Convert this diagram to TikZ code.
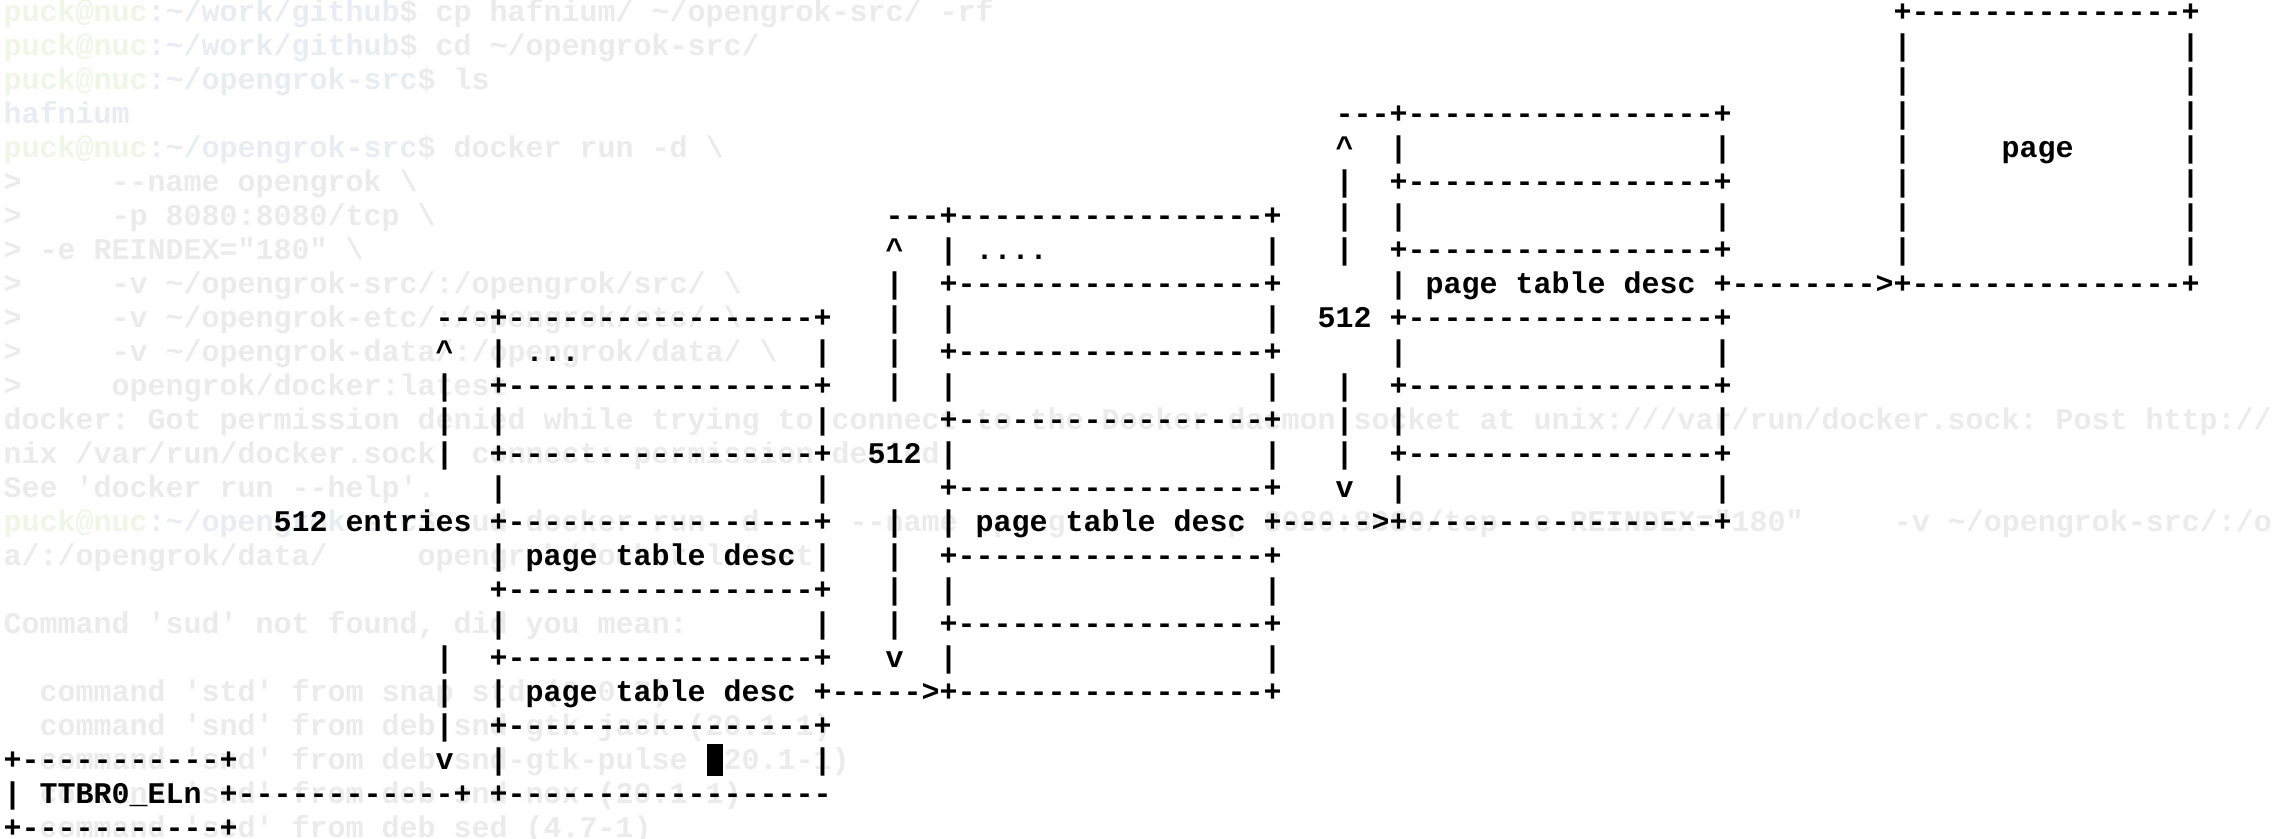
\documentclass[tikz,border=0pt]{standalone}
\usepackage{fontspec}
\setmonofont{Liberation Mono}
\definecolor{bggray}{HTML}{EBEBEB}
\definecolor{bggreen}{HTML}{EEF7E6}
\definecolor{bgblue}{HTML}{E8EDF3}
\tikzset{
  ascii/.style={anchor=base west, inner sep=0pt, outer sep=0pt, text=black,
    font=\ttfamily\bfseries\fontsize{30}{34}\selectfont},
  bgtext/.style={ascii, text=bggray},
  cursorbox/.style={fill=black, inner sep=0pt, minimum width=16pt, minimum height=32pt}
}
% one piece of the drawing at (row, column)
\newcommand\asc[3]{\node[ascii] (r#1c#2) at ({3.5+18*#2},{-21.7-34*#1}) {#3};}
% one faded terminal line
\newcommand\bgl[2]{\node[bgtext] (bg#1) at (3.5,{-21.7-34*#1}) {#2};}
\newcommand\termprompt[1]{\textcolor{bggreen}{puck@nuc}:\textcolor{bgblue}{#1}\$}

\begin{document}
\frenchspacing
\begin{tikzpicture}[x=1pt, y=1pt]
  \useasboundingbox (0,0) rectangle (2274,-838);
  \fill[white] (0,0) rectangle (2274,-838);

  % terminal text behind the drawing
  \bgl{0}{\termprompt{\textasciitilde/work/github} cp hafnium/ \textasciitilde/opengrok-src/ -rf}
  \bgl{1}{\termprompt{\textasciitilde/work/github} cd \textasciitilde/opengrok-src/}
  \bgl{2}{\termprompt{\textasciitilde/opengrok-src} ls}
  \bgl{3}{\textcolor{bgblue}{hafnium}}
  \bgl{4}{\termprompt{\textasciitilde/opengrok-src} docker run -d \textbackslash}
  \bgl{5}{>~~~~~--name opengrok \textbackslash}
  \bgl{6}{>~~~~~-p 8080:8080/tcp \textbackslash}
  \bgl{7}{> -e REINDEX="180" \textbackslash}
  \bgl{8}{>~~~~~-v \textasciitilde/opengrok-src/:/opengrok/src/ \textbackslash}
  \bgl{9}{>~~~~~-v \textasciitilde/opengrok-etc/:/opengrok/etc/ \textbackslash}
  \bgl{10}{>~~~~~-v \textasciitilde/opengrok-data/:/opengrok/data/ \textbackslash}
  \bgl{11}{>~~~~~opengrok/docker:latest}
  \bgl{12}{docker: Got permission denied while trying to connect to the Docker daemon socket at unix:///var/run/docker.sock: Post http://}
  \bgl{13}{nix /var/run/docker.sock: connect: permission denied.}
  \bgl{14}{See 'docker run --help'.}
  \bgl{15}{\termprompt{\textasciitilde/opengrok-src} sud docker run -d~~~~~--name opengrok~~~~~-p 8080:8080/tcp -e REINDEX="180"~~~~~-v \textasciitilde/opengrok-src/:/o}
  \bgl{16}{a/:/opengrok/data/~~~~~opengrok/docker:latest}
  \bgl{18}{Command 'sud' not found, did you mean:}
  \bgl{20}{~~command 'std' from snap std (0.0.7)}
  \bgl{21}{~~command 'snd' from deb snd-gtk-jack (20.1-1)}
  \bgl{22}{~~command 'snd' from deb snd-gtk-pulse (20.1-1)}
  \bgl{23}{~~command 'snd' from deb snd-nox (20.1-1)}
  \bgl{24}{~~command 'sed' from deb sed (4.7-1)}

  % page
  \asc{0}{105}{+---------------+}
  \foreach \i in {1,...,7} {
    \asc{\i}{105}{|}
    \asc{\i}{121}{|}
  }
  \asc{4}{111}{page}

  % last level table
  \asc{3}{74}{---+-----------------+}
  \asc{4}{74}{\textasciicircum}
  \asc{4}{77}{|}
  \asc{4}{95}{|}
  \asc{5}{74}{|}
  \asc{5}{77}{+-----------------+}
  \asc{6}{74}{|}
  \asc{6}{77}{|}
  \asc{6}{95}{|}
  \asc{7}{74}{|}
  \asc{7}{77}{+-----------------+}
  \asc{8}{77}{| page table desc +-------->+---------------+}
  \asc{9}{73}{512 +-----------------+}
  \asc{10}{77}{|}
  \asc{10}{95}{|}
  \asc{11}{74}{|}
  \asc{11}{77}{+-----------------+}
  \asc{12}{74}{|}
  \asc{12}{77}{|}
  \asc{12}{95}{|}
  \asc{13}{74}{|}
  \asc{13}{77}{+-----------------+}
  \asc{14}{74}{v}
  \asc{14}{77}{|}
  \asc{14}{95}{|}

  % middle table
  \asc{6}{49}{---+-----------------+}
  \asc{7}{49}{\textasciicircum}
  \asc{7}{52}{| ....}
  \asc{7}{70}{|}
  \asc{8}{49}{|}
  \asc{8}{52}{+-----------------+}
  \asc{9}{49}{|}
  \asc{9}{52}{|}
  \asc{9}{70}{|}
  \asc{10}{49}{|}
  \asc{10}{52}{+-----------------+}
  \asc{11}{49}{|}
  \asc{11}{52}{|}
  \asc{11}{70}{|}
  \asc{12}{52}{+-----------------+}
  \asc{13}{48}{512 |}
  \asc{13}{70}{|}
  \asc{14}{52}{+-----------------+}
  \asc{15}{49}{|}
  \asc{15}{52}{| page table desc +----->+-----------------+}
  \asc{16}{49}{|}
  \asc{16}{52}{+-----------------+}
  \asc{17}{49}{|}
  \asc{17}{52}{|}
  \asc{17}{70}{|}
  \asc{18}{49}{|}
  \asc{18}{52}{+-----------------+}
  \asc{19}{49}{v}
  \asc{19}{52}{|}
  \asc{19}{70}{|}

  % first table
  \asc{9}{24}{---+-----------------+}
  \asc{10}{24}{\textasciicircum}
  \asc{10}{27}{| ...}
  \asc{10}{45}{|}
  \asc{11}{24}{|}
  \asc{11}{27}{+-----------------+}
  \asc{12}{24}{|}
  \asc{12}{27}{|}
  \asc{12}{45}{|}
  \asc{13}{24}{|}
  \asc{13}{27}{+-----------------+}
  \asc{14}{27}{|}
  \asc{14}{45}{|}
  \asc{15}{15}{512 entries +-----------------+}
  \asc{16}{27}{| page table desc |}
  \asc{17}{27}{+-----------------+}
  \asc{18}{27}{|}
  \asc{18}{45}{|}
  \asc{19}{24}{|}
  \asc{19}{27}{+-----------------+}
  \asc{20}{24}{|}
  \asc{20}{27}{| page table desc +----->+-----------------+}
  \asc{21}{24}{|}
  \asc{21}{27}{+-----------------+}
  \asc{22}{24}{v}
  \asc{22}{27}{|}
  \asc{22}{45}{|}

  % TTBR0_ELn
  \asc{22}{0}{+-----------+}
  \asc{23}{0}{| TTBR0\_ELn +------------+ +------------------}
  \asc{24}{0}{+-----------+}

  \node[cursorbox] (cursor) at (714.5,-760) {};
\end{tikzpicture}
\end{document}
